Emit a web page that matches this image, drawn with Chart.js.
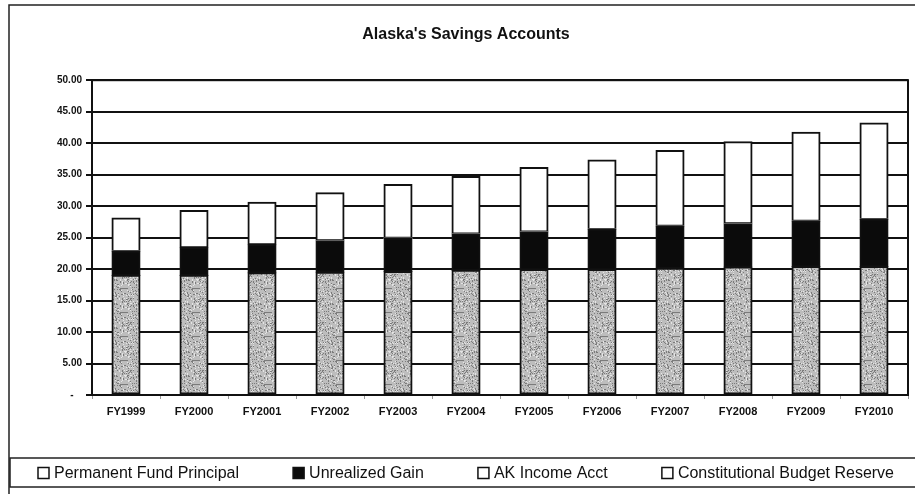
<!DOCTYPE html>
<html>
<head>
<meta charset="utf-8">
<title>Alaska's Savings Accounts</title>
<script src="https://cdn.jsdelivr.net/npm/chart.js@4.4.1/dist/chart.umd.min.js"></script>
<style>
  html, body { margin: 0; padding: 0; background: #fff; }
  #wrap { width: 915px; height: 494px; }
</style>
</head>
<body>
<div id="wrap"><canvas id="myChart" width="915" height="494"></canvas></div>
<script>
// 회계연도
var years = ['FY1999', 'FY2000', 'FY2001', 'FY2002', 'FY2003', 'FY2004',
             'FY2005', 'FY2006', 'FY2007', 'FY2008', 'FY2009', 'FY2010'];
// 계정별 잔액 (billions)
var fundPrincipal = [19.0, 19.0, 19.4, 19.5, 19.6, 19.8, 19.9, 19.9, 20.1, 20.3, 20.4, 20.4];
var unrealizedGain = [3.8, 4.4, 4.5, 5.0, 5.3, 5.8, 6.0, 6.4, 6.7, 6.9, 7.2, 7.5];
var incomeAcct = [0, 0, 0, 0, 0, 0, 0, 0, 0, 0, 0, 0];
var budgetReserve = [5.3, 5.9, 6.7, 7.6, 8.5, 9.1, 10.2, 11.0, 12.0, 13.0, 14.1, 15.3];
var yTicks = [0, 5, 10, 15, 20, 25, 30, 35, 40, 45, 50];

var FONT = '"Liberation Sans", Arial, sans-serif';

// 회색 점무늬 채우기
function makeTexture(){
	var c = document.createElement('canvas');
	c.width = 24; c.height = 24;
	var g = c.getContext('2d');
	g.fillStyle = '#bdbdbd';
	g.fillRect(0, 0, 24, 24);
	for (var y = 0; y < 24; y++) {
		for (var x = 0; x < 24; x++) {
			var h = (((x * 73856093) ^ (y * 19349663)) >>> 0) % 97;
			if (h < 15) { g.fillStyle = 'rgba(70,70,70,0.55)'; g.fillRect(x, y, 1, 1); }
			else if (h > 86) { g.fillStyle = '#e4e4e4'; g.fillRect(x, y, 1, 1); }
		}
	}
	return g.createPattern(c, 'repeat');
}
var texture = makeTexture();

// 차트 테두리 + 범례
var framePlugin = {
	id: 'frame',
	beforeDatasetsDraw: function(chart){
		var a = chart.chartArea, ctx = chart.ctx;
		ctx.save();
		ctx.strokeStyle = '#111';
		ctx.lineWidth = 2;
		ctx.strokeRect(a.left, a.top, a.right - a.left, a.bottom - a.top);
		ctx.restore();
	},
	afterDraw: function(chart){
		var ctx = chart.ctx;
		ctx.save();
		// 바깥 테두리
		ctx.strokeStyle = '#222';
		ctx.lineWidth = 1.5;
		ctx.beginPath();
		ctx.moveTo(9, 494); ctx.lineTo(9, 5); ctx.lineTo(916, 5);
		ctx.stroke();
		// 범례 박스
		ctx.strokeRect(10, 458, 910, 29);

		var items = chart.data.datasets;
		ctx.font = '16px ' + FONT;
		ctx.textBaseline = 'middle';
		var widths = items.map(function(d){ return 11 + 5 + ctx.measureText(d.label).width; });
		var total = widths.reduce(function(s, w){ return s + w; }, 0);
		var gap = (894 - 38 - total) / (items.length - 1);
		var x = 38, cy = 473;
		items.forEach(function(d, i){
			ctx.fillStyle = d.legendColor;
			ctx.fillRect(x, cy - 5.5, 11, 11);
			ctx.strokeStyle = '#111';
			ctx.lineWidth = 1.5;
			ctx.strokeRect(x, cy - 5.5, 11, 11);
			ctx.fillStyle = '#111';
			ctx.fillText(d.label, x + 16, cy + 1);
			x += widths[i] + gap;
		});
		ctx.restore();
	}
};

function barSet(label, data, fill, legendColor){
	return {
		label: label,
		data: data,
		backgroundColor: fill,
		legendColor: legendColor,
		borderColor: '#111',
		// 0인 칸은 테두리 없이
		borderWidth: function(c){ return c.raw > 0 ? 2 : 0; },
		borderSkipped: false,
		inflateAmount: 0.6,
		barPercentage: 0.41,
		categoryPercentage: 1.0
	};
}

new Chart(document.getElementById('myChart'), {
	type: 'bar',
	data: {
		labels: years,
		datasets: [
			barSet('Permanent Fund Principal', fundPrincipal, texture, '#fff'),
			barSet('Unrealized Gain', unrealizedGain, '#0b0b0b', '#0b0b0b'),
			barSet('AK Income Acct', incomeAcct, '#fff', '#fff'),
			barSet('Constitutional Budget Reserve', budgetReserve, '#fff', '#fff')
		]
	},
	options: {
		responsive: false,
		devicePixelRatio: 1,
		animation: false,
		layout: { padding: { left: 24, right: 7, top: 0, bottom: 69 } },
		plugins: {
			legend: { display: false },
			tooltip: { enabled: false },
			title: {
				display: true,
				text: "Alaska's Savings Accounts",
				color: '#111',
				font: { family: FONT, size: 16, weight: 'bold' },
				padding: { top: 25, bottom: 36 }
			}
		},
		scales: {
			x: {
				stacked: true,
				grid: { display: true, offset: true, drawOnChartArea: false, drawTicks: true, tickLength: 4, color: '#999' },
				border: { display: true, color: '#111', width: 2 },
				ticks: { color: '#111', padding: 6, font: { family: FONT, size: 11, weight: 'bold' } },
				afterFit: function(s){ s.height = 30; }
			},
			y: {
				stacked: true,
				min: 0,
				max: 50,
				afterBuildTicks: function(s){ s.ticks = yTicks.map(function(v){ return { value: v }; }); },
				grid: { color: '#111', lineWidth: 2, drawTicks: true, tickLength: 6 },
				border: { display: true, color: '#111', width: 2 },
				ticks: {
					color: '#111',
					padding: 4,
					font: { family: FONT, size: 10, weight: 'bold' },
					callback: function(v){ return v === 0 ? '-   ' : v.toFixed(2); }
				},
				afterFit: function(s){ s.width = 68; }
			}
		}
	},
	plugins: [framePlugin]
});
</script>
</body>
</html>
